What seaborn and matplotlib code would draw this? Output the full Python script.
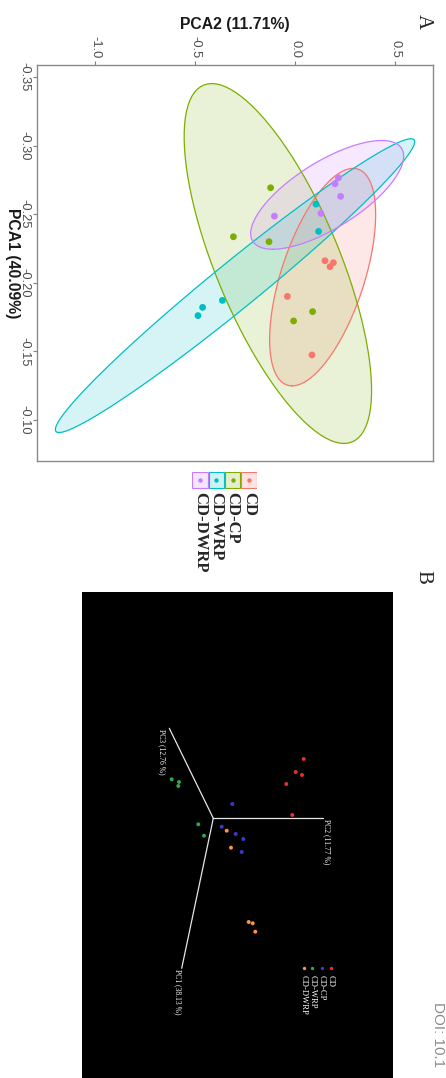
import numpy as np
import pandas as pd
import matplotlib
matplotlib.use("Agg")
import matplotlib.pyplot as plt
from matplotlib.patches import Rectangle
import seaborn as sns

# ---------------- data: 2-D PCA scores (panel A) ----------------
groups = ["CD", "CD-CP", "CD-WRP", "CD-DWRP"]
group_colors = ["#F8766D", "#7CAE00", "#00BFC4", "#C77CFF"]

pca1_cd = [-0.2160, -0.2146, -0.2117, -0.1900, -0.1473]
pca2_cd = [0.150, 0.192, 0.175, -0.038, 0.085]
pca1_cp = [-0.2692, -0.2335, -0.2299, -0.1789, -0.1721]
pca2_cp = [-0.122, -0.308, -0.130, 0.088, -0.007]
pca1_wrp = [-0.2573, -0.2374, -0.1871, -0.1820, -0.1760]
pca2_wrp = [0.105, 0.118, -0.363, -0.462, -0.485]
pca1_dwrp = [-0.2765, -0.2721, -0.2629, -0.2505, -0.2485]
pca2_dwrp = [0.217, 0.200, 0.228, 0.130, -0.103]

pca1_ticks = [-0.35, -0.30, -0.25, -0.20, -0.15, -0.10]
pca2_ticks = [-1.0, -0.5, 0.0, 0.5]
pca1_title = "PCA1 (40.09%)"
pca2_title = "PCA2 (11.71%)"

# ---------------- data: projected 3-D PCA view (panel B) ----------------
groups_3d = ["CD", "CD-CP", "CD-WRP", "CD-DWRP"]
colors_3d = ["#e8302c", "#3a3ad0", "#2fa84a", "#ff9448"]
view_h_cd = [221.7, 213.7, 220.0, 204.3, 210.3]
view_v_cd = [167.0, 180.0, 183.0, 192.0, 223.0]
view_h_cp = [150.3, 139.7, 153.7, 161.3, 159.7]
view_v_cp = [212.0, 234.7, 242.0, 247.0, 260.0]
view_h_wrp = [89.7, 97.0, 96.3, 116.3, 122.0]
view_v_wrp = [187.3, 190.0, 194.0, 232.3, 243.7]
view_h_dwrp = [144.7, 149.0, 166.7, 170.7, 173.3]
view_v_dwrp = [238.7, 255.7, 330.0, 331.3, 339.7]

axis_origin = (131.3, 226.3)
axis_names = ["PC1 (38.13 %)", "PC2 (11.77 %)", "PC3 (12.76 %)"]
axis_end_h = [99.7, 241.3, 87.3]
axis_end_v = [376.3, 226.3, 136.3]
axis_label_h = [96.0, 245.0, 80.0]

# ---------------- helpers ----------------
W, H = 446, 1078


def fx(x):
    return x / W


def fy(y):
    return 1 - y / H


def cov_trob(x, nu=5, maxit=25, tol=0.01):
    """Multivariate t robust location / scatter (as MASS::cov.trob)."""
    n, p = x.shape
    wt = np.ones(n)
    loc = x.mean(axis=0)
    w = np.sqrt(wt)
    X = x - loc
    for _ in range(maxit):
        w0 = w
        X = x - loc
        _, d, vt = np.linalg.svd(np.sqrt(w / w.sum())[:, None] * X, full_matrices=False)
        wX = X @ vt.T @ np.diag(1 / d)
        q = (wX ** 2).sum(axis=1)
        w = wt * (nu + p) / (nu + q)
        loc = (w[:, None] * x).sum(axis=0) / w.sum()
        if np.all(np.abs(w - w0) < tol):
            break
    sx = np.sqrt(w)[:, None] * X
    cov = sx.T @ sx / wt.sum()
    return loc, cov


def t_ellipse(xv, yv, level=0.95, segments=101):
    pts = np.column_stack([xv, yv])
    center, shape = cov_trob(pts)
    dfd = len(xv) - 1
    fq = dfd / 2 * ((1 - level) ** (-2 / dfd) - 1)  # F(2, dfd) quantile
    radius = np.sqrt(2 * fq)
    ang = np.linspace(0, 2 * np.pi, segments)
    circle = np.column_stack([np.cos(ang), np.sin(ang)])
    r_up = np.linalg.cholesky(shape).T
    return center + radius * circle @ r_up


# ---------------- figure ----------------
sns.set_theme(style="white")
plt.rcParams["font.family"] = ["Liberation Sans", "DejaVu Sans"]
serif = ["Liberation Serif", "DejaVu Serif"]
fig = plt.figure(figsize=(W / 100, H / 100), dpi=100)
fig.patch.set_facecolor("white")

df = pd.DataFrame({
    "PCA1": pca1_cd + pca1_cp + pca1_wrp + pca1_dwrp,
    "PCA2": pca2_cd + pca2_cp + pca2_wrp + pca2_dwrp,
    "group": sum([[g] * 5 for g in groups], []),
})
palette = dict(zip(groups, group_colors))

# Panel A (page turned a quarter clockwise: PCA2 across, PCA1 downward)
axA = fig.add_axes([fx(37), fy(461), fx(433) - fx(37), fy(65) - fy(461)])
for g in groups:
    sub = df[df.group == g]
    ell = t_ellipse(sub.PCA1.values, sub.PCA2.values)
    axA.fill(ell[:, 1], ell[:, 0], color=palette[g], alpha=0.16, lw=0, zorder=1)
    axA.plot(ell[:, 1], ell[:, 0], color=palette[g], lw=0.9, zorder=2)
sns.scatterplot(data=df, x="PCA2", y="PCA1", hue="group", palette=palette,
                s=24, linewidth=0, legend=False, ax=axA, zorder=3)
axA.set_xlim(-1.29, 0.69)
axA.set_ylim(-0.070, -0.3587)
axA.xaxis.tick_top()
axA.set_xticks(pca2_ticks)
axA.set_xticklabels([f"{t:.1f}" for t in pca2_ticks], rotation=-90, fontsize=9.3, color="#4d4d4d")
axA.set_yticks(pca1_ticks)
axA.set_yticklabels([f"{t:.2f}" for t in pca1_ticks], rotation=-90, fontsize=9.3,
                    color="#4d4d4d", va="center")
axA.tick_params(axis="both", length=3, width=0.8, color="#7f7f7f", pad=2,
                top=True, left=True, bottom=False, right=False)
for sp in axA.spines.values():
    sp.set_color("#8a8a8a")
    sp.set_linewidth(1.0)
axA.xaxis.set_label_position("top")
axA.set_xlabel(pca2_title, fontsize=11.3, fontweight="bold", color="#1a1a1a", va="center")
axA.xaxis.set_label_coords(0.5, (461 - 25) / 396)
axA.set_ylabel(pca1_title, fontsize=11.3, fontweight="bold", color="#1a1a1a",
               rotation=-90, va="center", ha="center")
axA.yaxis.set_label_coords((12 - 37) / 396, 0.5)

# legend of panel A
legA = fig.add_axes([fx(192), fy(580), fx(257) - fx(192), fy(472) - fy(580)])
legA.set_xlim(0, 4)
legA.set_ylim(6.75, 0)
legA.axis("off")
for i, g in enumerate(reversed(groups)):
    c = palette[g]
    legA.add_patch(Rectangle((i + 0.03, 0.03), 0.94, 0.94, facecolor=c, alpha=0.2, lw=0))
    legA.add_patch(Rectangle((i + 0.03, 0.03), 0.94, 0.94, fill=False, edgecolor=c, lw=0.8))
    legA.scatter([i + 0.5], [0.5], s=10, color=c, lw=0)
    legA.text(i + 0.5, 1.25, g, rotation=-90, ha="center", va="top", fontsize=12,
              fontweight="bold", family=serif)

fig.text(fx(423), fy(22), "A", rotation=-90, ha="center", va="center", fontsize=15,
         family=serif)

# Panel B: projected 3-D score view on black
axB = fig.add_axes([fx(82), 0, fx(393) - fx(82), fy(592)])
axB.set_facecolor("black")
axB.set_xlim(0, 311)
axB.set_ylim(486, 0)
axB.set_xticks([])
axB.set_yticks([])
for sp in axB.spines.values():
    sp.set_visible(False)

for name, eh, ev, lh in zip(axis_names, axis_end_h, axis_end_v, axis_label_h):
    axB.plot([axis_origin[0], eh], [axis_origin[1], ev], color="#e6e6e6", lw=0.9)
    axB.text(lh, ev + 1, name, rotation=-90, ha="center", va="top", fontsize=5.5,
             color="white", family=serif)

df3 = pd.DataFrame({
    "h": view_h_cd + view_h_cp + view_h_wrp + view_h_dwrp,
    "v": view_v_cd + view_v_cp + view_v_wrp + view_v_dwrp,
    "group": sum([[g] * 5 for g in groups_3d], []),
})
pal3 = dict(zip(groups_3d, colors_3d))
sns.scatterplot(data=df3, x="h", y="v", hue="group", palette=pal3, s=8, linewidth=0,
                legend=False, ax=axB)
axB.set_xlabel("")
axB.set_ylabel("")

leg_h = [248.7, 239.7, 230.3, 221.7]
for g, h in zip(groups_3d, leg_h):
    axB.scatter([h], [376.3], s=6, color=pal3[g], lw=0)
    axB.text(h, 383, g, rotation=-90, ha="center", va="top", fontsize=6.2, color="white",
             family=serif)

fig.text(fx(423), fy(577), "B", rotation=-90, ha="center", va="center", fontsize=15,
         family=serif)
fig.text(fx(438), fy(1002), "DOI: 10.1", rotation=-90, ha="center", va="top",
         fontsize=11, color="#8c8c8c")

fig.savefig("out.png", dpi=100, facecolor="white")
